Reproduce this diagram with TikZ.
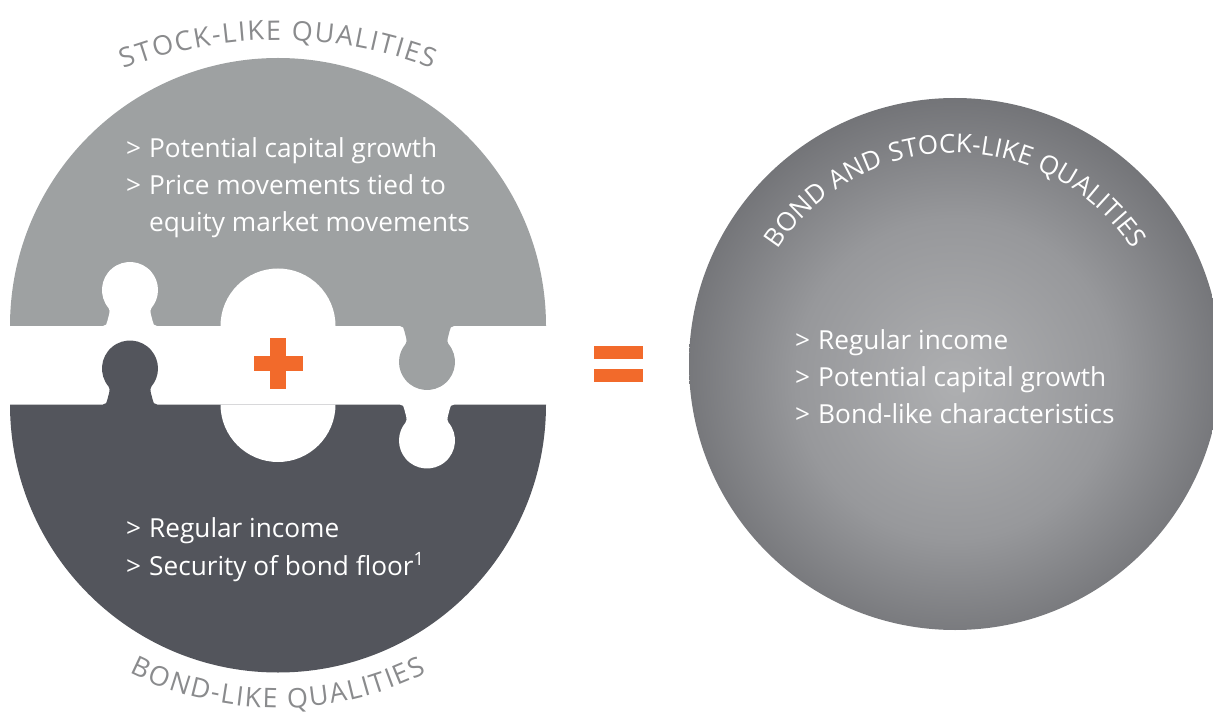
\documentclass[tikz,border=0pt]{standalone}
\usepackage{fontspec}
\setmainfont{Open Sans}
\newfontfamily\ringfont[LetterSpace=3]{Open Sans}
\usetikzlibrary{decorations.text}

\definecolor{stockgray}{HTML}{9EA1A2}
\definecolor{bonddark}{HTML}{53555C}
\definecolor{accent}{HTML}{F26A2B}
\definecolor{labelgray}{HTML}{8A8B8D}
\definecolor{glowlight}{HTML}{AEAFB1}
\definecolor{glowinner}{HTML}{97989B}
\definecolor{glowmid}{HTML}{66676B}
\definecolor{glowouter}{HTML}{58595E}
\definecolor{glowdark}{HTML}{55565B}

\pgfdeclareradialshading{glow}{\pgfpoint{0bp}{-2bp}}{%
  color(0bp)=(glowlight); color(15bp)=(glowinner);
  color(30bp)=(glowmid); color(42bp)=(glowouter); color(50bp)=(glowdark)}

% one jigsaw tab, base on the x axis, head pointing up
\newcommand{\knob}{(-27,-4) -- (-27,0)
  .. controls (-24,0) and (-23,2) .. (-22.6,5)
  .. controls (-22,9) and (-18.8,14.9) .. (-21.45,18)
  arc[start angle=220,end angle=-40,radius=28]
  .. controls (18.8,14.9) and (22,9) .. (22.6,5)
  .. controls (23,2) and (24,0) .. (27,0) -- (27,-4) -- cycle}

\newcommand{\itemmark}{\makebox[23pt][l]{>}}
\newcommand{\labelsize}{\fontsize{27}{30}\selectfont}

\tikzset{
  body/.style={anchor=base west, inner sep=0pt, text=white,
    font=\fontsize{26.2}{30}\selectfont},
  arclabel/.style={decorate, decoration={text effects along path,
    text={#1}, text align=center,
    text effects/.cd, text along path,
    character widths={inner xsep=0.8pt, inner ysep=0pt, font=\labelsize},
    characters={inner sep=0pt, anchor=base, text=labelgray, font=\labelsize}}},
}

\begin{document}
\begin{tikzpicture}[x=1pt,y=1pt]
\useasboundingbox (0,0) rectangle (1213,-719);
\clip (0,0) rectangle (1213,-719);

% combined circle on the right
\shade[shading=glow] (955,-364) circle[radius=266];

% upper (stock) half and lower (bond) half
\fill[stockgray] (10,-326) arc[start angle=180,end angle=0,radius=268] -- cycle;
\fill[bonddark] (10,-404.5) arc[start angle=180,end angle=360,radius=268] -- cycle;

% central opening
\fill[white] (220.5,-326) arc[start angle=180,end angle=0,radius=57.5] -- cycle;
\fill[white] (220.5,-404.5) arc[start angle=180,end angle=360,radius=57.5] -- cycle;

% jigsaw tabs and sockets
\fill[white, shift={(130,-326)}] \knob;
\fill[bonddark, shift={(130,-404.5)}] \knob;
\fill[stockgray, shift={(427,-326)}, rotate=180] \knob;
\fill[white, shift={(427,-404.5)}, rotate=180] \knob;

% plus and equals signs
\fill[accent] (253.5,-356) rectangle (302.5,-371);
\fill[accent] (270.25,-338) rectangle (285.75,-389);
\fill[accent] (593.5,-346) rectangle (642.5,-359);
\fill[accent] (593.5,-368.5) rectangle (642.5,-381.5);

% curved headings
\path[shift={(278,-467)}, arclabel={STOCK-LIKE QUALITIES}]
  (140:427) arc[start angle=140,end angle=40,radius=427];
\path[shift={(278,-378)}, arclabel={BOND-LIKE QUALITIES}]
  (210:330) arc[start angle=210,end angle=330,radius=330];
\path[shift={(955,-364)}, decorate, decoration={text along path,
    text align=center, text color=white,
    text={|\ringfont\fontsize{26}{28}\selectfont|BOND AND STOCK-LIKE QUALITIES}}]
  (170:211) arc[start angle=170,end angle=10,radius=211];

% bullet texts
\node[body] (stockA) at (126,-158) {\itemmark Potential capital growth};
\node[body] (stockB) at (126,-195) {\itemmark Price movements tied to};
\node[body] (stockC) at (149,-232) {equity market movements};
\node[body] (bondA) at (126,-537) {\itemmark Regular income};
\node[body] (bondB) at (126,-575) {\itemmark Security of bond floor\textsuperscript{1}};
\node[body] (mixA) at (795,-349.5) {\itemmark Regular income};
\node[body] (mixB) at (795,-386.5) {\itemmark Potential capital growth};
\node[body] (mixC) at (795,-423.5) {\itemmark Bond-like characteristics};
\end{tikzpicture}
\end{document}
